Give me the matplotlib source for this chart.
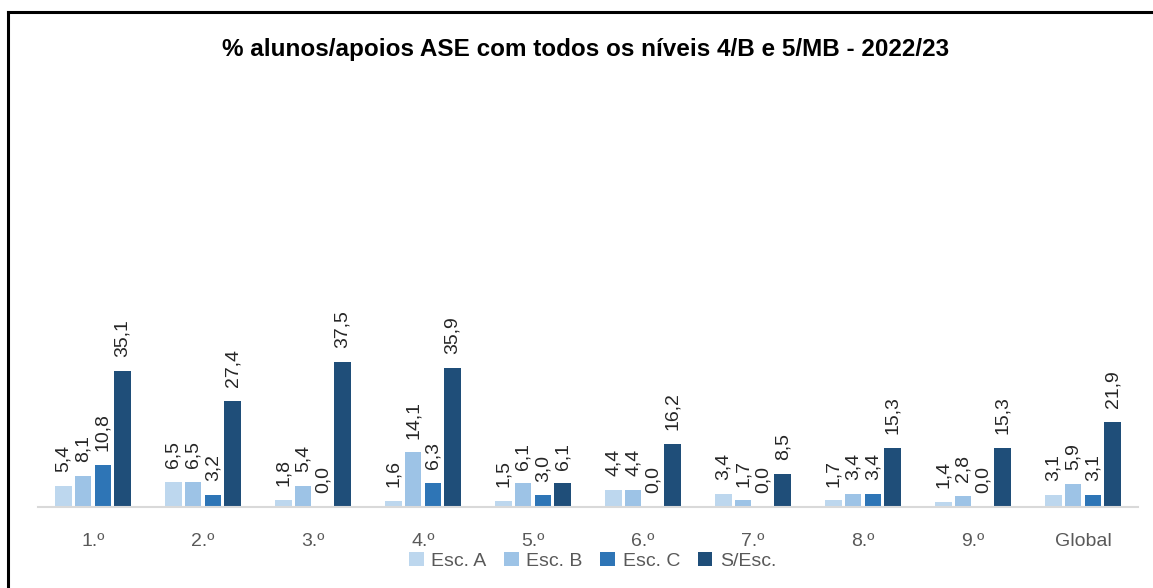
import numpy as np
import matplotlib.pyplot as plt
from matplotlib.lines import Line2D

categorias = ['1.º', '2.º', '3.º', '4.º', '5.º', '6.º', '7.º', '8.º', '9.º', 'Global']
esc_a = [5.4, 6.5, 1.8, 1.6, 1.5, 4.4, 3.4, 1.7, 1.4, 3.1]
esc_b = [8.1, 6.5, 5.4, 14.1, 6.1, 4.4, 1.7, 3.4, 2.8, 5.9]
esc_c = [10.8, 3.2, 0.0, 6.3, 3.0, 0.0, 0.0, 3.4, 0.0, 3.1]
s_esc = [35.1, 27.4, 37.5, 35.9, 6.1, 16.2, 8.5, 15.3, 15.3, 21.9]
series = ['Esc. A', 'Esc. B', 'Esc. C', 'S/Esc.']
cores = ['#BDD7EE', '#9DC3E6', '#2E75B6', '#1F4E79']

plt.rcParams['font.family'] = ['Liberation Sans', 'DejaVu Sans']

fig = plt.figure(figsize=(11.53, 5.88), dpi=100)
ax = fig.add_axes([38 / 1153, 81 / 588, 1100 / 1153, 387 / 588])

x = np.arange(len(categorias))
passo = 0.18
largura = 0.15
for i, (nome, vals, cor) in enumerate(zip(series, [esc_a, esc_b, esc_c, s_esc], cores)):
    pos = x + (i - 1.5) * passo
    ax.bar(pos, vals, width=largura, color=cor, label=nome, zorder=2)
    for xp, v in zip(pos, vals):
        ax.annotate(f'{v:.1f}'.replace('.', ','), (xp, v), xytext=(0, 10),
                    textcoords='offset points', rotation=90, ha='center', va='bottom',
                    fontsize=14, color='#262626')

ax.set_xlim(-0.5, len(categorias) - 0.5)
ax.set_ylim(0, 100)
ax.set_xticks(x)
ax.set_xticklabels(categorias, fontsize=14, color='#595959')
ax.tick_params(axis='x', length=0, pad=19)
ax.set_yticks([])
for s in ['top', 'right', 'left']:
    ax.spines[s].set_visible(False)
ax.spines['bottom'].set_color('#D9D9D9')
ax.spines['bottom'].set_linewidth(1.5)

fig.text(0.508, 0.915, '% alunos/apoios ASE com todos os níveis 4/B e 5/MB - 2022/23',
         ha='center', va='center', fontsize=17.5, fontweight='bold', color='black')

leg = fig.legend(loc='center', bbox_to_anchor=(0.514, 1 - 561 / 588), ncol=4, frameon=False,
                 fontsize=14, handlelength=0.75, handleheight=0.75, handletextpad=0.4,
                 columnspacing=0.9, borderpad=0.1)
for t in leg.get_texts():
    t.set_color('#595959')

# moldura (só esquerda e topo visíveis)
fig.add_artist(Line2D([8 / 1153, 8 / 1153], [0, 1 - 12 / 588], color='black', lw=2.2,
                      transform=fig.transFigure))
fig.add_artist(Line2D([8 / 1153, 1], [1 - 12 / 588, 1 - 12 / 588], color='black', lw=2.2,
                      transform=fig.transFigure))

fig.savefig('out.png', dpi=100)
